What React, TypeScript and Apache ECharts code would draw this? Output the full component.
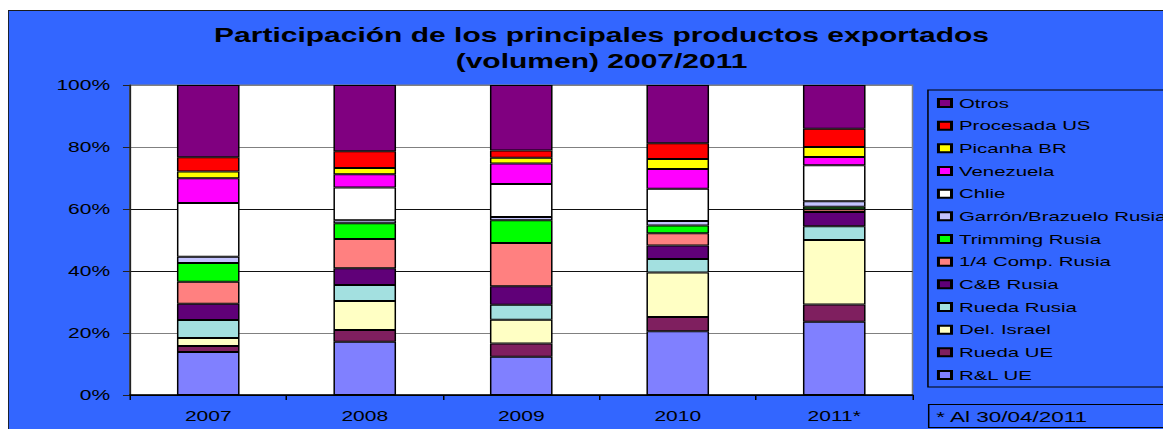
import React, { useEffect, useRef } from "react";
import * as echarts from "echarts";

const years = ["2007", "2008", "2009", "2010", "2011*"];
const yTicks = ["0%", "20%", "40%", "60%", "80%", "100%"];

const seriesNames = [
  "R&L UE",
  "Rueda UE",
  "Del. Israel",
  "Rueda Rusia",
  "C&B Rusia",
  "1/4 Comp. Rusia",
  "Trimming Rusia",
  "Garrón/Brazuelo Rusia",
  "Chlie",
  "Venezuela",
  "Picanha BR",
  "Procesada US",
  "Otros",
];

const rlUE = [13.9, 17.2, 12.3, 20.6, 23.6];
const ruedaUE = [1.9, 3.8, 4.3, 4.6, 5.6];
const delIsrael = [2.6, 9.3, 7.7, 14.3, 20.8];
const ruedaRusia = [5.8, 5.2, 4.8, 4.4, 4.4];
const cbRusia = [5.2, 5.4, 6.0, 4.3, 4.6];
const cuartoComp = [7.1, 9.4, 13.9, 4.0, 0.9];
const trimming = [6.1, 5.1, 7.4, 2.5, 0.8];
const garron = [2.0, 1.0, 1.0, 1.4, 1.8];
const chile = [17.3, 10.5, 10.7, 10.4, 11.6];
const venezuela = [8.0, 4.3, 6.6, 6.4, 2.7];
const picanha = [2.2, 2.0, 1.8, 3.2, 3.2];
const procesada = [4.6, 5.4, 2.4, 5.1, 5.9];
const otros = [23.3, 21.4, 21.1, 18.8, 14.1];

const seriesValues = [
  rlUE, ruedaUE, delIsrael, ruedaRusia, cbRusia, cuartoComp, trimming,
  garron, chile, venezuela, picanha, procesada, otros,
];

const seriesColors = [
  "#8080FF", "#7F1F5F", "#FFFFC4", "#A3E0E0", "#600078", "#FF8080", "#00FF00",
  "#C4C4FF", "#FFFFFF", "#FF00FF", "#FFFF00", "#FF0000", "#800080",
];

const FONT = "'Liberation Sans', Arial, sans-serif";
const STRETCH = 1.5;
const W = 1163 / STRETCH;
const H = 421;

export default function App() {
  const ref = useRef<HTMLDivElement>(null);
  useEffect(() => {
    if (!ref.current) return;
    const chart = echarts.init(ref.current, null, { renderer: "svg" });
    chart.setOption({
      animation: false,
      textStyle: { fontFamily: FONT },
      graphic: [
        {
          type: "rect",
          z: -10,
          silent: true,
          shape: { x: 0, y: 2.5, width: 900, height: 460 },
          style: { fill: "#3366FF", stroke: "#1a1a1a", lineWidth: 1.2 },
        },
        {
          type: "group",
          left: 613.3,
          top: 396,
          children: [
            {
              type: "rect",
              shape: { x: 0, y: 0, width: 200, height: 23 },
              style: { fill: "#3366FF", stroke: "#000", lineWidth: 1 },
            },
            {
              type: "text",
              x: 5,
              y: 12,
              style: {
                text: "* Al 30/04/2011",
                font: `15px ${FONT}`,
                fill: "#000",
                verticalAlign: "middle",
              },
            },
          ],
        },
      ],
      title: {
        text: "Participación de los principales productos exportados\n(volumen) 2007/2011",
        left: 390.7,
        top: 9,
        textAlign: "center",
        textStyle: {
          fontFamily: FONT,
          fontSize: 20,
          fontWeight: "bold",
          color: "#000",
          lineHeight: 26,
        },
      },
      legend: {
        orient: "vertical",
        left: 613.3,
        top: 82,
        padding: [6, 6, 5, 6],
        borderColor: "#000",
        borderWidth: 1,
        itemWidth: 8.7,
        itemHeight: 8,
        itemGap: 8.67,
        icon: "rect",
        data: [...seriesNames].reverse(),
        textStyle: {
          fontFamily: FONT,
          fontSize: 13.6,
          lineHeight: 14,
          color: "#000",
        },
      },
      grid: {
        left: 81.33,
        top: 77,
        right: W - 603.33,
        bottom: 34,
        show: true,
        backgroundColor: "#FFFFFF",
        borderColor: "#808080",
        borderWidth: 1,
      },
      xAxis: {
        type: "category",
        data: years,
        axisLine: { lineStyle: { color: "#000", width: 1.5 } },
        axisTick: { show: true, inside: false, length: 5, alignWithLabel: false, lineStyle: { color: "#000" } },
        axisLabel: { fontSize: 14, color: "#000", margin: 14, fontFamily: FONT },
      },
      yAxis: {
        type: "value",
        min: 0,
        max: 100,
        interval: 20,
        axisLine: { show: true, lineStyle: { color: "#222", width: 1.2 } },
        axisTick: { show: true, length: 4.7, lineStyle: { color: "#222" } },
        axisLabel: {
          fontSize: 14,
          color: "#000",
          margin: 13.3,
          fontFamily: FONT,
          formatter: (v: number) => yTicks[Math.round(v / 20)],
        },
        splitLine: {
          show: true,
          lineStyle: {
            color: ["#000", "#808080", "#111", "#111", "#808080", "#808080"],
            width: 1,
          },
        },
      },
      series: seriesNames.map((name, i) => ({
        name,
        type: "bar",
        stack: "total",
        barWidth: "40%",
        data: seriesValues[i],
        itemStyle: {
          color: seriesColors[i],
          borderColor: "#000",
          borderWidth: 1,
        },
      })),
    });
    return () => chart.dispose();
  }, []);
  return (
    <div
      ref={ref}
      style={{
        width: W,
        height: H,
        transform: `scaleX(${STRETCH})`,
        transformOrigin: "left top",
      }}
    />
  );
}
